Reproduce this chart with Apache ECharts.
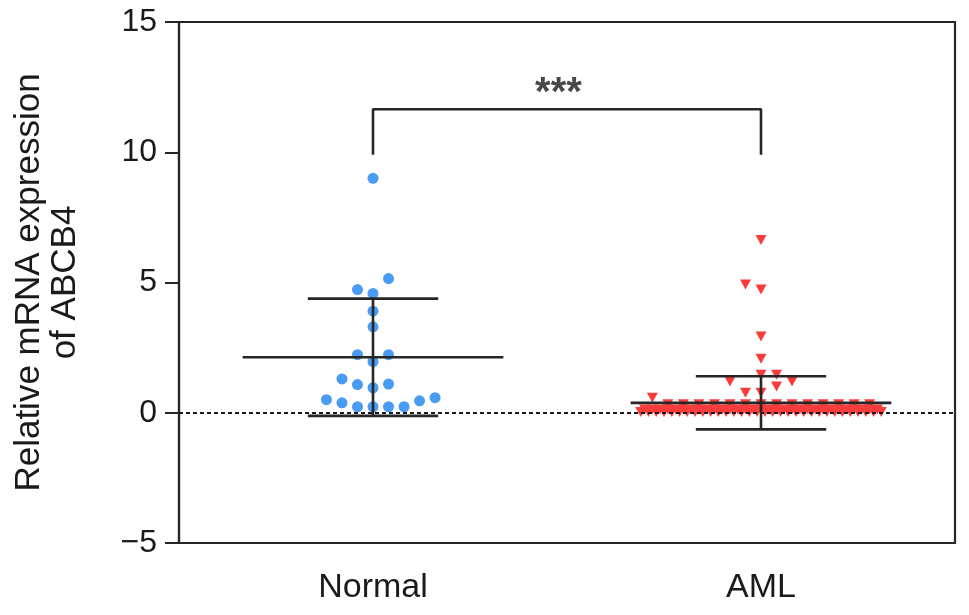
<!DOCTYPE html>
<html><head><meta charset="utf-8">
<script src="https://cdn.jsdelivr.net/npm/echarts@6/dist/echarts.min.js"></script>
<style>html,body{margin:0;padding:0;background:#fff}#c{width:969px;height:615px}</style>
</head><body><div id="c"></div>
<script>
// ---- data ----
const categories = ['Normal', 'AML'];
const yMin = -5, yMax = 15, yInterval = 5;

const normalValues = [9.0, 5.15, 4.73, 4.58, 3.9, 3.3, 2.23, 2.23, 1.96, 1.3, 1.08, 0.96, 1.1, 0.5, 0.38, 0.23, 0.23, 0.23, 0.23, 0.46, 0.58];
const normalSlots  = [0,   1,    -1,   0,    0,   0,   -1,   1,    0,    -2,  -1,   0,    1,   -3,  -2,   -1,   0,    1,    2,    3,    4];

const amlValues = [
  6.63, 4.92, 4.73, 2.93, 2.07, 1.46, 1.46, 1.2, 1.2, 1.01, 0.77, 0.77,
  0.58, 0.33, 0.33, 0.33, 0.33, 0.33, 0.33, 0.33, 0.33, 0.33, 0.33, 0.33, 0.33, 0.33, 0.33,
  0.12, 0.12, 0.12, 0.12, 0.12, 0.12, 0.12, 0.12, 0.12, 0.12, 0.12, 0.12, 0.12, 0.12, 0.12, 0.12,
  0.12, 0.12, 0.12, 0.12, 0.12, 0.12, 0.12, 0.12, 0.12, 0.12, 0.12, 0.12, 0.12, 0.12, 0.12,
  0.03, 0.03, 0.03, 0.03, 0.03, 0.03, 0.03, 0.03, 0.03, 0.03, 0.03, 0.03, 0.03, 0.03, 0.03, 0.03,
  0.03, 0.03, 0.03, 0.03, 0.03, 0.03, 0.03, 0.03, 0.03, 0.03, 0.03, 0.03, 0.03, 0.03, 0.03, 0.03
];
const amlSlots = [
  0, -1, 0, 0, 0, 0, 1, -2, 2, 1, -1, 0,
  -7, -6, -5, -4, -3, -2, -1, 0, 1, 2, 3, 4, 5, 6, 7,
  -7.5, -7, -6.5, -6, -5.5, -5, -4.5, -4, -3.5, -3, -2.5, -2, -1.5, -1, -0.5, 0,
  0.5, 1, 1.5, 2, 2.5, 3, 3.5, 4, 4.5, 5, 5.5, 6, 6.5, 7, 7.5,
  -7.75, -7.25, -6.75, -6.25, -5.75, -5.25, -4.75, -4.25, -3.75, -3.25, -2.75, -2.25, -1.75, -1.25, -0.75, -0.25,
  0.25, 0.75, 1.25, 1.75, 2.25, 2.75, 3.25, 3.75, 4.25, 4.75, 5.25, 5.75, 6.25, 6.75, 7.25, 7.75
];

const groupMeans = [2.13, 0.38];
const groupSDs = [2.25, 1.02];

const bracketGroups = [0, 0, 1, 1];
const bracketY = [9.9, 11.65, 11.65, 9.9];
const significanceLabel = '***';
const significanceY = 12.25;

// ---- layout helpers (style, not data) ----
const SLOT = 0.04;          // horizontal spacing of dots in group units
const MEAN_HALF = 0.336;    // half-width of mean line
const SD_HALF = 0.168;      // half-width of SD caps
const STAR_SHIFT = -0.022;  // stars sit slightly left of the bracket centre
const center = g => g + 0.5;
const ink = '#262626';
const font = 'Liberation Sans, Arial, Helvetica, sans-serif';

const normalData = normalValues.map((v, i) => [center(0) + normalSlots[i] * SLOT, v]);
const amlData = amlValues.map((v, i) => [center(1) + amlSlots[i] * SLOT, v]);
const errData = groupMeans.map((m, g) => [center(g), m, groupSDs[g]]);
const bracketData = bracketY.map((y, i) => [center(bracketGroups[i]), y]);
const starX = (center(0) + center(1)) / 2 + STAR_SHIFT;

const chart = echarts.init(document.getElementById('c'), null, {renderer: 'canvas'});
chart.setOption({
  animation: false,
  backgroundColor: '#fff',
  textStyle: {fontFamily: font},
  grid: {left: 179, right: 14, top: 22, bottom: 72, show: true, borderColor: ink, borderWidth: 2.2, backgroundColor: 'transparent'},
  xAxis: [
    {
      type: 'category', data: categories, boundaryGap: true,
      axisLine: {onZero: false, lineStyle: {color: ink, width: 2.2}},
      axisTick: {alignWithLabel: true, length: 13, lineStyle: {color: ink, width: 2}},
      axisLabel: {fontSize: 34, color: '#1a1a1a', margin: 28, fontFamily: font},
      splitLine: {show: false}
    },
    {type: 'value', min: 0, max: 2, show: false}
  ],
  yAxis: {
    type: 'value', min: yMin, max: yMax, interval: yInterval,
    name: 'Relative mRNA expression\nof ABCB4',
    nameLocation: 'middle', nameGap: 96,
    nameTextStyle: {fontSize: 35, color: '#1a1a1a', lineHeight: 36, fontFamily: font},
    axisLine: {show: true, onZero: false, lineStyle: {color: ink, width: 2.2}},
    axisTick: {show: true, length: 14, lineStyle: {color: ink, width: 2}},
    axisLabel: {fontSize: 32, color: '#1a1a1a', margin: 22, fontFamily: font,
      formatter: v => v < 0 ? '\u2212' + Math.abs(v) : String(v)},
    splitLine: {show: false}
  },
  series: [
    {
      type: 'scatter', xAxisIndex: 1, data: normalData,
      symbol: 'circle', symbolSize: 11,
      itemStyle: {color: '#4a9bf2', opacity: 1},
      markLine: {
        silent: true, symbol: 'none', label: {show: false},
        lineStyle: {color: '#1a1a1a', width: 2, type: [4, 3]},
        data: [{yAxis: 0}]
      },
      z: 3
    },
    {
      type: 'scatter', xAxisIndex: 1, data: amlData,
      symbol: 'triangle', symbolRotate: 180, symbolSize: [11, 10],
      itemStyle: {color: '#f83c3c', opacity: 1},
      z: 3
    },
    {
      type: 'custom', xAxisIndex: 1, data: errData, z: 5,
      renderItem: (params, api) => {
        const cx = api.value(0), m = api.value(1), sd = api.value(2);
        const pm = api.coord([cx, m]);
        const pu = api.coord([cx, m + sd]);
        const pl = api.coord([cx, m - sd]);
        const wm = api.size([MEAN_HALF, 0])[0];
        const ws = api.size([SD_HALF, 0])[0];
        const style = {stroke: ink, lineWidth: 2.6};
        return {type: 'group', children: [
          {type: 'line', shape: {x1: pm[0] - wm, y1: pm[1], x2: pm[0] + wm, y2: pm[1]}, style},
          {type: 'line', shape: {x1: pu[0] - ws, y1: pu[1], x2: pu[0] + ws, y2: pu[1]}, style},
          {type: 'line', shape: {x1: pl[0] - ws, y1: pl[1], x2: pl[0] + ws, y2: pl[1]}, style},
          {type: 'line', shape: {x1: pu[0], y1: pu[1], x2: pl[0], y2: pl[1]}, style}
        ]};
      }
    },
    {
      type: 'line', xAxisIndex: 1, data: bracketData, symbol: 'none',
      lineStyle: {color: ink, width: 2.6}, z: 4
    },
    {
      type: 'scatter', xAxisIndex: 1, data: [[starX, significanceY]],
      symbolSize: 1, itemStyle: {color: 'rgba(0,0,0,0)'},
      label: {show: true, position: 'inside', formatter: significanceLabel,
        fontSize: 40, fontWeight: 'bold', color: '#1a1a1a', fontFamily: font},
      z: 6
    }
  ]
});
</script>
</body></html>
